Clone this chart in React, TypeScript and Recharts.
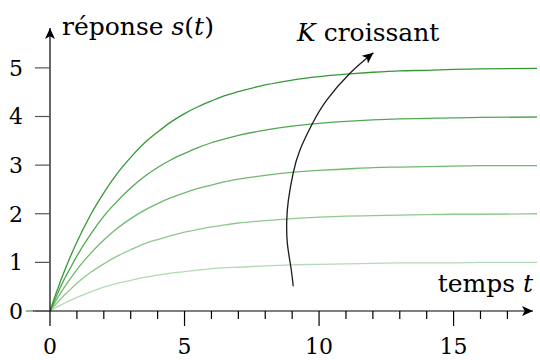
import { LineChart, Line, XAxis, YAxis, ReferenceLine } from 'recharts';

// time samples (t) and the five step responses, one per gain K
const times = [0, 0.25, 0.5, 0.75, 1, 1.5, 2, 2.5, 3, 3.5, 4, 4.5, 5, 5.5, 6, 6.5, 7, 8, 9, 10, 11, 12, 13, 14, 15, 16, 18.1];
const k1 = [0, 0.08, 0.15, 0.22, 0.28, 0.39, 0.49, 0.57, 0.63, 0.69, 0.74, 0.78, 0.81, 0.84, 0.87, 0.89, 0.9, 0.93, 0.95, 0.96, 0.97, 0.98, 0.99, 0.99, 0.99, 1.0, 1.0];
const k2 = [0, 0.16, 0.31, 0.44, 0.57, 0.79, 0.97, 1.13, 1.26, 1.38, 1.47, 1.55, 1.62, 1.68, 1.73, 1.77, 1.81, 1.86, 1.9, 1.93, 1.95, 1.96, 1.97, 1.98, 1.99, 1.99, 2.0];
const k3 = [0, 0.24, 0.46, 0.66, 0.85, 1.18, 1.46, 1.7, 1.9, 2.07, 2.21, 2.33, 2.43, 2.52, 2.59, 2.66, 2.71, 2.79, 2.85, 2.89, 2.92, 2.95, 2.96, 2.97, 2.98, 2.99, 2.99];
const k4 = [0, 0.32, 0.62, 0.88, 1.13, 1.57, 1.95, 2.26, 2.53, 2.76, 2.95, 3.11, 3.24, 3.36, 3.46, 3.54, 3.61, 3.72, 3.8, 3.86, 3.9, 3.93, 3.95, 3.96, 3.97, 3.98, 3.99];
const k5 = [0, 0.4, 0.77, 1.11, 1.42, 1.97, 2.43, 2.83, 3.16, 3.45, 3.68, 3.89, 4.06, 4.2, 4.32, 4.43, 4.51, 4.65, 4.75, 4.82, 4.87, 4.91, 4.94, 4.95, 4.97, 4.98, 4.99];

// "K croissant" arrow path
const arrowT = [9.04, 8.95, 8.82, 8.8, 8.86, 9.04, 9.29, 9.73, 10.29, 11.15, 12.02];
const arrowS = [0.51, 0.91, 1.4, 1.87, 2.28, 2.84, 3.31, 3.83, 4.34, 4.89, 5.31];

const xTicks = [0, 1, 2, 3, 4, 5, 6, 7, 8, 9, 10, 11, 12, 13, 14, 15, 16, 17];
const xLabels = [0, 5, 10, 15];
const yTicks = [0, 1, 2, 3, 4, 5];

const SERIES = [
  { key: 'k1', color: '#b3dbb3' },
  { key: 'k2', color: '#90c990' },
  { key: 'k3', color: '#70b870' },
  { key: 'k4', color: '#52a852' },
  { key: 'k5', color: '#369836' },
];

const FONT = "'DejaVu Serif', serif";

const data = times.map((t, i) => ({ t, k1: k1[i], k2: k2[i], k3: k3[i], k4: k4[i], k5: k5[i] }));
const arrowData = arrowT.map((t, i) => ({ t, s: arrowS[i] }));

function XTick(props: any) {
  const { x, y, payload } = props;
  const major = xLabels.includes(payload.value);
  return (
    <g>
      <line x1={x} x2={x} y1={y} y2={y + (major ? 15 : 8)} stroke="#000" strokeWidth={1.2} />
      {major && (
        <text x={x} y={y + 35} dy="0.36em" textAnchor="middle" fontSize={22} fontFamily={FONT} fill="#000">
          {payload.value}
        </text>
      )}
    </g>
  );
}

export default function App() {
  return (
    <div style={{ position: 'absolute', left: 0, top: 0, width: 540, height: 360, background: '#fff' }}>
      <svg width={0} height={0} style={{ position: 'absolute' }}>
        <defs>
          <marker id="arrowhead" viewBox="0 0 10 10" refX={10} refY={5} markerWidth={11} markerHeight={11}
            markerUnits="userSpaceOnUse" orient="auto">
            <path d="M0,0.5 L10,5 L0,9.5 L2.5,5 Z" fill="#000" />
          </marker>
        </defs>
      </svg>
      <LineChart width={540} height={360} data={data} margin={{ top: 28, right: 3, left: 0, bottom: 0 }}>
        <XAxis type="number" dataKey="t" domain={[0, 18.1]} ticks={xTicks} interval={0} allowDataOverflow
          axisLine={false} tickLine={false} tickSize={0} tickMargin={0} height={49} tick={<XTick />} />
        <YAxis type="number" domain={[0, 5.82]} ticks={yTicks} interval={0} allowDataOverflow width={50}
          axisLine={false} tickLine={{ stroke: '#555', strokeWidth: 1.2 }} tickSize={15} tickMargin={12}
          tick={{ fill: '#000', fontSize: 22, fontFamily: FONT }} />
        {SERIES.map(s => (
          <Line key={s.key} type="monotone" dataKey={s.key} stroke={s.color} strokeWidth={1.3}
            dot={false} isAnimationActive={false} />
        ))}
        <ReferenceLine segment={[{ x: -0.9, y: 0 }, { x: -0.6, y: 0 }]} stroke="#4aa44a" strokeWidth={1.3} ifOverflow="visible" />
        <ReferenceLine segment={[{ x: -0.63, y: 0 }, { x: 17.95, y: 0 }]} stroke="#000" strokeWidth={1.2}
          ifOverflow="visible" markerEnd="url(#arrowhead)" />
        <ReferenceLine segment={[{ x: 0, y: 0 }, { x: 0, y: 5.82 }]} stroke="#000" strokeWidth={1.2}
          ifOverflow="visible" markerEnd="url(#arrowhead)" />
        <Line data={arrowData} type="natural" dataKey="s" stroke="#1a1a1a" strokeWidth={1.3} dot={false}
          isAnimationActive={false} markerEnd="url(#arrowhead)" />
      </LineChart>
      <svg width={540} height={360} style={{ position: 'absolute', left: 0, top: 0, pointerEvents: 'none' }}>
        <text x={62} y={35} fontSize={25} fontFamily={FONT} fill="#000">
          réponse <tspan fontStyle="italic">s</tspan>(<tspan fontStyle="italic">t</tspan>)
        </text>
        <text x={297} y={41} fontSize={25} fontFamily={FONT} fill="#000">
          <tspan fontStyle="italic">K</tspan> croissant
        </text>
        <text x={533} y={292} textAnchor="end" fontSize={25} fontFamily={FONT} fill="#000">
          temps <tspan fontStyle="italic">t</tspan>
        </text>
      </svg>
    </div>
  );
}
